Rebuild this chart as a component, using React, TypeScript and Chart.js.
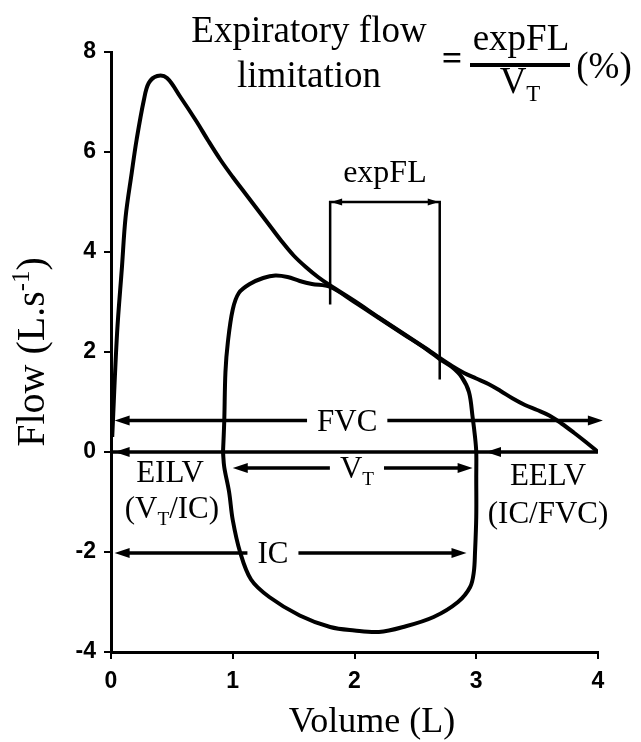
import React, { useEffect, useRef } from "react";
import { Chart, registerables } from "chart.js";

Chart.register(...registerables);

// ---- Data (volume in L, flow in L/s) ----
const maxVolume = [0.01, 0.05, 0.09, 0.12, 0.17, 0.21, 0.27, 0.31, 0.38, 0.46, 0.57, 0.7, 0.8, 0.9, 1.0, 1.1, 1.2, 1.3, 1.4, 1.5, 1.6, 1.7, 1.8, 2.0, 2.2, 2.4, 2.6, 2.7, 2.8, 2.9, 3.0, 3.1, 3.2, 3.3, 3.4, 3.5, 3.6, 3.7, 3.8, 3.9, 4.0];
const maxFlow = [0.3, 2.38, 3.7, 4.7, 5.58, 6.24, 7.04, 7.38, 7.52, 7.48, 7.1, 6.62, 6.22, 5.84, 5.5, 5.18, 4.86, 4.54, 4.22, 3.93, 3.7, 3.5, 3.33, 3.02, 2.69, 2.37, 2.05, 1.88, 1.72, 1.58, 1.47, 1.36, 1.22, 1.07, 0.94, 0.84, 0.73, 0.57, 0.39, 0.2, 0];

const tidalVolume = [0.92, 0.93, 0.94, 0.96, 1.0, 1.05, 1.14, 1.25, 1.35, 1.45, 1.55, 1.65, 1.8, 2.0, 2.2, 2.4, 2.6, 2.7, 2.8, 2.88, 2.94, 2.97, 2.99, 3.0, 3.0, 3.0, 2.99, 2.98, 2.95, 2.85, 2.65, 2.4, 2.2, 2.0, 1.8, 1.55, 1.3, 1.15, 1.06, 1.0, 0.97, 0.93, 0.92];
const tidalFlow = [0, 0.6, 1.6, 2.2, 2.85, 3.18, 3.36, 3.48, 3.53, 3.5, 3.42, 3.36, 3.3, 3.0, 2.68, 2.36, 2.04, 1.86, 1.7, 1.5, 1.2, 0.7, 0.3, 0, -0.5, -1.3, -2.0, -2.4, -2.7, -3.0, -3.3, -3.5, -3.6, -3.57, -3.5, -3.27, -2.9, -2.55, -2.0, -1.36, -0.8, -0.3, 0];

const xTicks = [0, 1, 2, 3, 4];
const yTicks = [-4, -2, 0, 2, 4, 6, 8];

// annotation values (data units)
const fvcArrow = [0.03, 4.04, 0.63]; // from, to, flow
const vtArrow = [1.0, 2.97, -0.32];
const icArrow = [0.03, 2.92, -2.02];
const zeroArrowTips = [0.03, 3.08];
const expFLBracket = [1.8, 2.7, 5.0, 2.95, 1.45]; // left vol, right vol, top, left bottom, right bottom

const SERIF = "'Liberation Serif', 'Times New Roman', serif";
const SANS = "'Liberation Sans', Arial, sans-serif";

type Part = { t: string; s?: "sub" | "sup" };

function partsWidth(ctx: CanvasRenderingContext2D, parts: Part[], size: number) {
  let w = 0;
  for (const p of parts) {
    ctx.font = `${p.s ? size * 0.62 : size}px ${SERIF}`;
    w += ctx.measureText(p.t).width;
  }
  return w;
}

function drawParts(ctx: CanvasRenderingContext2D, parts: Part[], cx: number, baseline: number, size: number) {
  const total = partsWidth(ctx, parts, size);
  let x = cx - total / 2;
  ctx.textAlign = "left";
  ctx.textBaseline = "alphabetic";
  ctx.fillStyle = "#000";
  for (const p of parts) {
    const sz = p.s ? size * 0.62 : size;
    ctx.font = `${sz}px ${SERIF}`;
    const dy = p.s === "sub" ? size * 0.22 : p.s === "sup" ? -size * 0.38 : 0;
    ctx.fillText(p.t, x, baseline + dy);
    x += ctx.measureText(p.t).width;
  }
  return total;
}

function arrowHead(ctx: CanvasRenderingContext2D, x: number, y: number, dir: number, len = 15, half = 5) {
  ctx.beginPath();
  ctx.moveTo(x, y);
  ctx.lineTo(x - dir * len, y - half);
  ctx.lineTo(x - dir * len, y + half);
  ctx.closePath();
  ctx.fill();
}

const annotations = {
  id: "annotations",
  afterDatasetsDraw(chart: any) {
    const { ctx } = chart;
    const xs = chart.scales.x;
    const ys = chart.scales.y;
    const X = (v: number) => xs.getPixelForValue(v);
    const Y = (v: number) => ys.getPixelForValue(v);
    ctx.save();
    ctx.strokeStyle = "#000";
    ctx.fillStyle = "#000";
    ctx.lineCap = "butt";

    const labelSize = 31;

    const hArrow = (from: number, to: number, flow: number, leftHead: boolean, rightHead: boolean, label?: Part[], labelAt?: number) => {
      const y = Y(flow);
      const x1 = X(from);
      const x2 = X(to);
      ctx.lineWidth = 3.5;
      if (label && labelAt !== undefined) {
        const cx = X(labelAt);
        const w = partsWidth(ctx, label, labelSize);
        const gap = 10;
        ctx.beginPath();
        ctx.moveTo(x1 + (leftHead ? 8 : 0), y);
        ctx.lineTo(cx - w / 2 - gap, y);
        ctx.moveTo(cx + w / 2 + gap, y);
        ctx.lineTo(x2 - (rightHead ? 8 : 0), y);
        ctx.stroke();
        drawParts(ctx, label, cx, y + labelSize * 0.33, labelSize);
      } else {
        ctx.beginPath();
        ctx.moveTo(x1, y);
        ctx.lineTo(x2, y);
        ctx.stroke();
      }
      if (leftHead) arrowHead(ctx, x1, y, -1);
      if (rightHead) arrowHead(ctx, x2, y, 1);
    };

    // zero line with two left-pointing heads
    ctx.lineWidth = 3.5;
    ctx.beginPath();
    ctx.moveTo(X(0), Y(0));
    ctx.lineTo(X(4), Y(0));
    ctx.stroke();
    arrowHead(ctx, X(zeroArrowTips[0]), Y(0), -1);
    arrowHead(ctx, X(zeroArrowTips[1]), Y(0), -1);

    hArrow(fvcArrow[0], fvcArrow[1], fvcArrow[2], true, true, [{ t: "FVC" }], 1.94);
    hArrow(vtArrow[0], vtArrow[1], vtArrow[2], true, true, [{ t: "V" }, { t: "T", s: "sub" }], 2.02);
    hArrow(icArrow[0], icArrow[1], icArrow[2], true, true, [{ t: "IC" }], 1.33);

    // expFL bracket
    const [bl, br, bt, blb, brb] = expFLBracket;
    ctx.lineWidth = 2.5;
    ctx.beginPath();
    ctx.moveTo(X(bl), Y(blb));
    ctx.lineTo(X(bl), Y(bt));
    ctx.lineTo(X(br), Y(bt));
    ctx.lineTo(X(br), Y(brb));
    ctx.stroke();
    arrowHead(ctx, X(bl) + 1, Y(bt), -1, 11, 3.5);
    arrowHead(ctx, X(br) - 1, Y(bt), 1, 11, 3.5);
    drawParts(ctx, [{ t: "expFL" }], X((bl + br) / 2), Y(5.4), 32);

    // EILV / EELV labels
    drawParts(ctx, [{ t: "EILV" }], X(0.485), Y(-0.6), labelSize);
    drawParts(ctx, [{ t: "(V" }, { t: "T", s: "sub" }, { t: "/IC)" }], X(0.5), Y(-1.32), labelSize);
    drawParts(ctx, [{ t: "EELV" }], X(3.59), Y(-0.66), labelSize);
    drawParts(ctx, [{ t: "(IC/FVC)" }], X(3.59), Y(-1.42), labelSize);

    // Formula at top
    const fs = 37;
    drawParts(ctx, [{ t: "Expiratory flow" }], 309, 42, fs);
    drawParts(ctx, [{ t: "limitation" }], 309, 87, fs);
    ctx.font = `bold 36px ${SERIF}`;
    ctx.textAlign = "center";
    ctx.fillText("=", 452, 70);
    drawParts(ctx, [{ t: "expFL" }], 521, 50, fs);
    ctx.lineWidth = 4;
    ctx.beginPath();
    ctx.moveTo(470, 65);
    ctx.lineTo(570, 65);
    ctx.stroke();
    drawParts(ctx, [{ t: "V" }, { t: "T", s: "sub" }], 520, 93, fs);
    drawParts(ctx, [{ t: "(%)" }], 604, 78, fs);

    // axis titles
    drawParts(ctx, [{ t: "Volume (L)" }], 372, 732, 36);
    ctx.save();
    ctx.translate(44, 352);
    ctx.rotate(-Math.PI / 2);
    drawParts(ctx, [{ t: "Flow (L.s" }, { t: "-1", s: "sup" }, { t: ")" }], 0, 0, 40);
    ctx.restore();

    ctx.restore();
  },
};

export default function App() {
  const ref = useRef<HTMLCanvasElement | null>(null);
  useEffect(() => {
    if (!ref.current) return;
    const chart = new Chart(ref.current, {
      type: "scatter",
      data: {
        datasets: [
          {
            label: "Maximal flow-volume curve",
            data: maxVolume.map((v, i) => ({ x: v, y: maxFlow[i] })),
            showLine: true,
            borderColor: "#000",
            borderWidth: 4,
            pointRadius: 0,
            tension: 0.35,
            fill: false,
          },
          {
            label: "Tidal flow-volume loop",
            data: tidalVolume.map((v, i) => ({ x: v, y: tidalFlow[i] })),
            showLine: true,
            borderColor: "#000",
            borderWidth: 4,
            pointRadius: 0,
            tension: 0.35,
            fill: false,
          },
        ],
      },
      options: {
        responsive: false,
        animation: false,
        layout: { padding: { top: 52, right: 43, left: 0, bottom: 0 } },
        plugins: { legend: { display: false }, tooltip: { enabled: false } },
        scales: {
          x: {
            type: "linear",
            min: 0,
            max: 4,
            afterBuildTicks: (s: any) => {
              s.ticks = xTicks.map((v) => ({ value: v }));
            },
            afterFit: (s: any) => {
              s.height = 90;
            },
            ticks: { color: "#000", font: { family: SANS, size: 23, weight: "bold" }, padding: 9 },
            grid: { drawOnChartArea: false, drawTicks: true, tickLength: 7, color: "#000", lineWidth: 2 },
            border: { color: "#000", width: 3 },
          },
          y: {
            type: "linear",
            min: -4,
            max: 8,
            afterBuildTicks: (s: any) => {
              s.ticks = yTicks.map((v) => ({ value: v }));
            },
            afterFit: (s: any) => {
              s.width = 111;
            },
            ticks: { color: "#000", font: { family: SANS, size: 23, weight: "bold" }, padding: 8 },
            grid: { drawOnChartArea: false, drawTicks: true, tickLength: 7, color: "#000", lineWidth: 2 },
            border: { color: "#000", width: 3 },
          },
        },
      },
      plugins: [annotations],
    });
    return () => chart.destroy();
  }, []);
  return (
    <div style={{ position: "fixed", left: 0, top: 0, width: 641, height: 742, background: "#fff" }}>
      <canvas ref={ref} width={641} height={742} />
    </div>
  );
}
